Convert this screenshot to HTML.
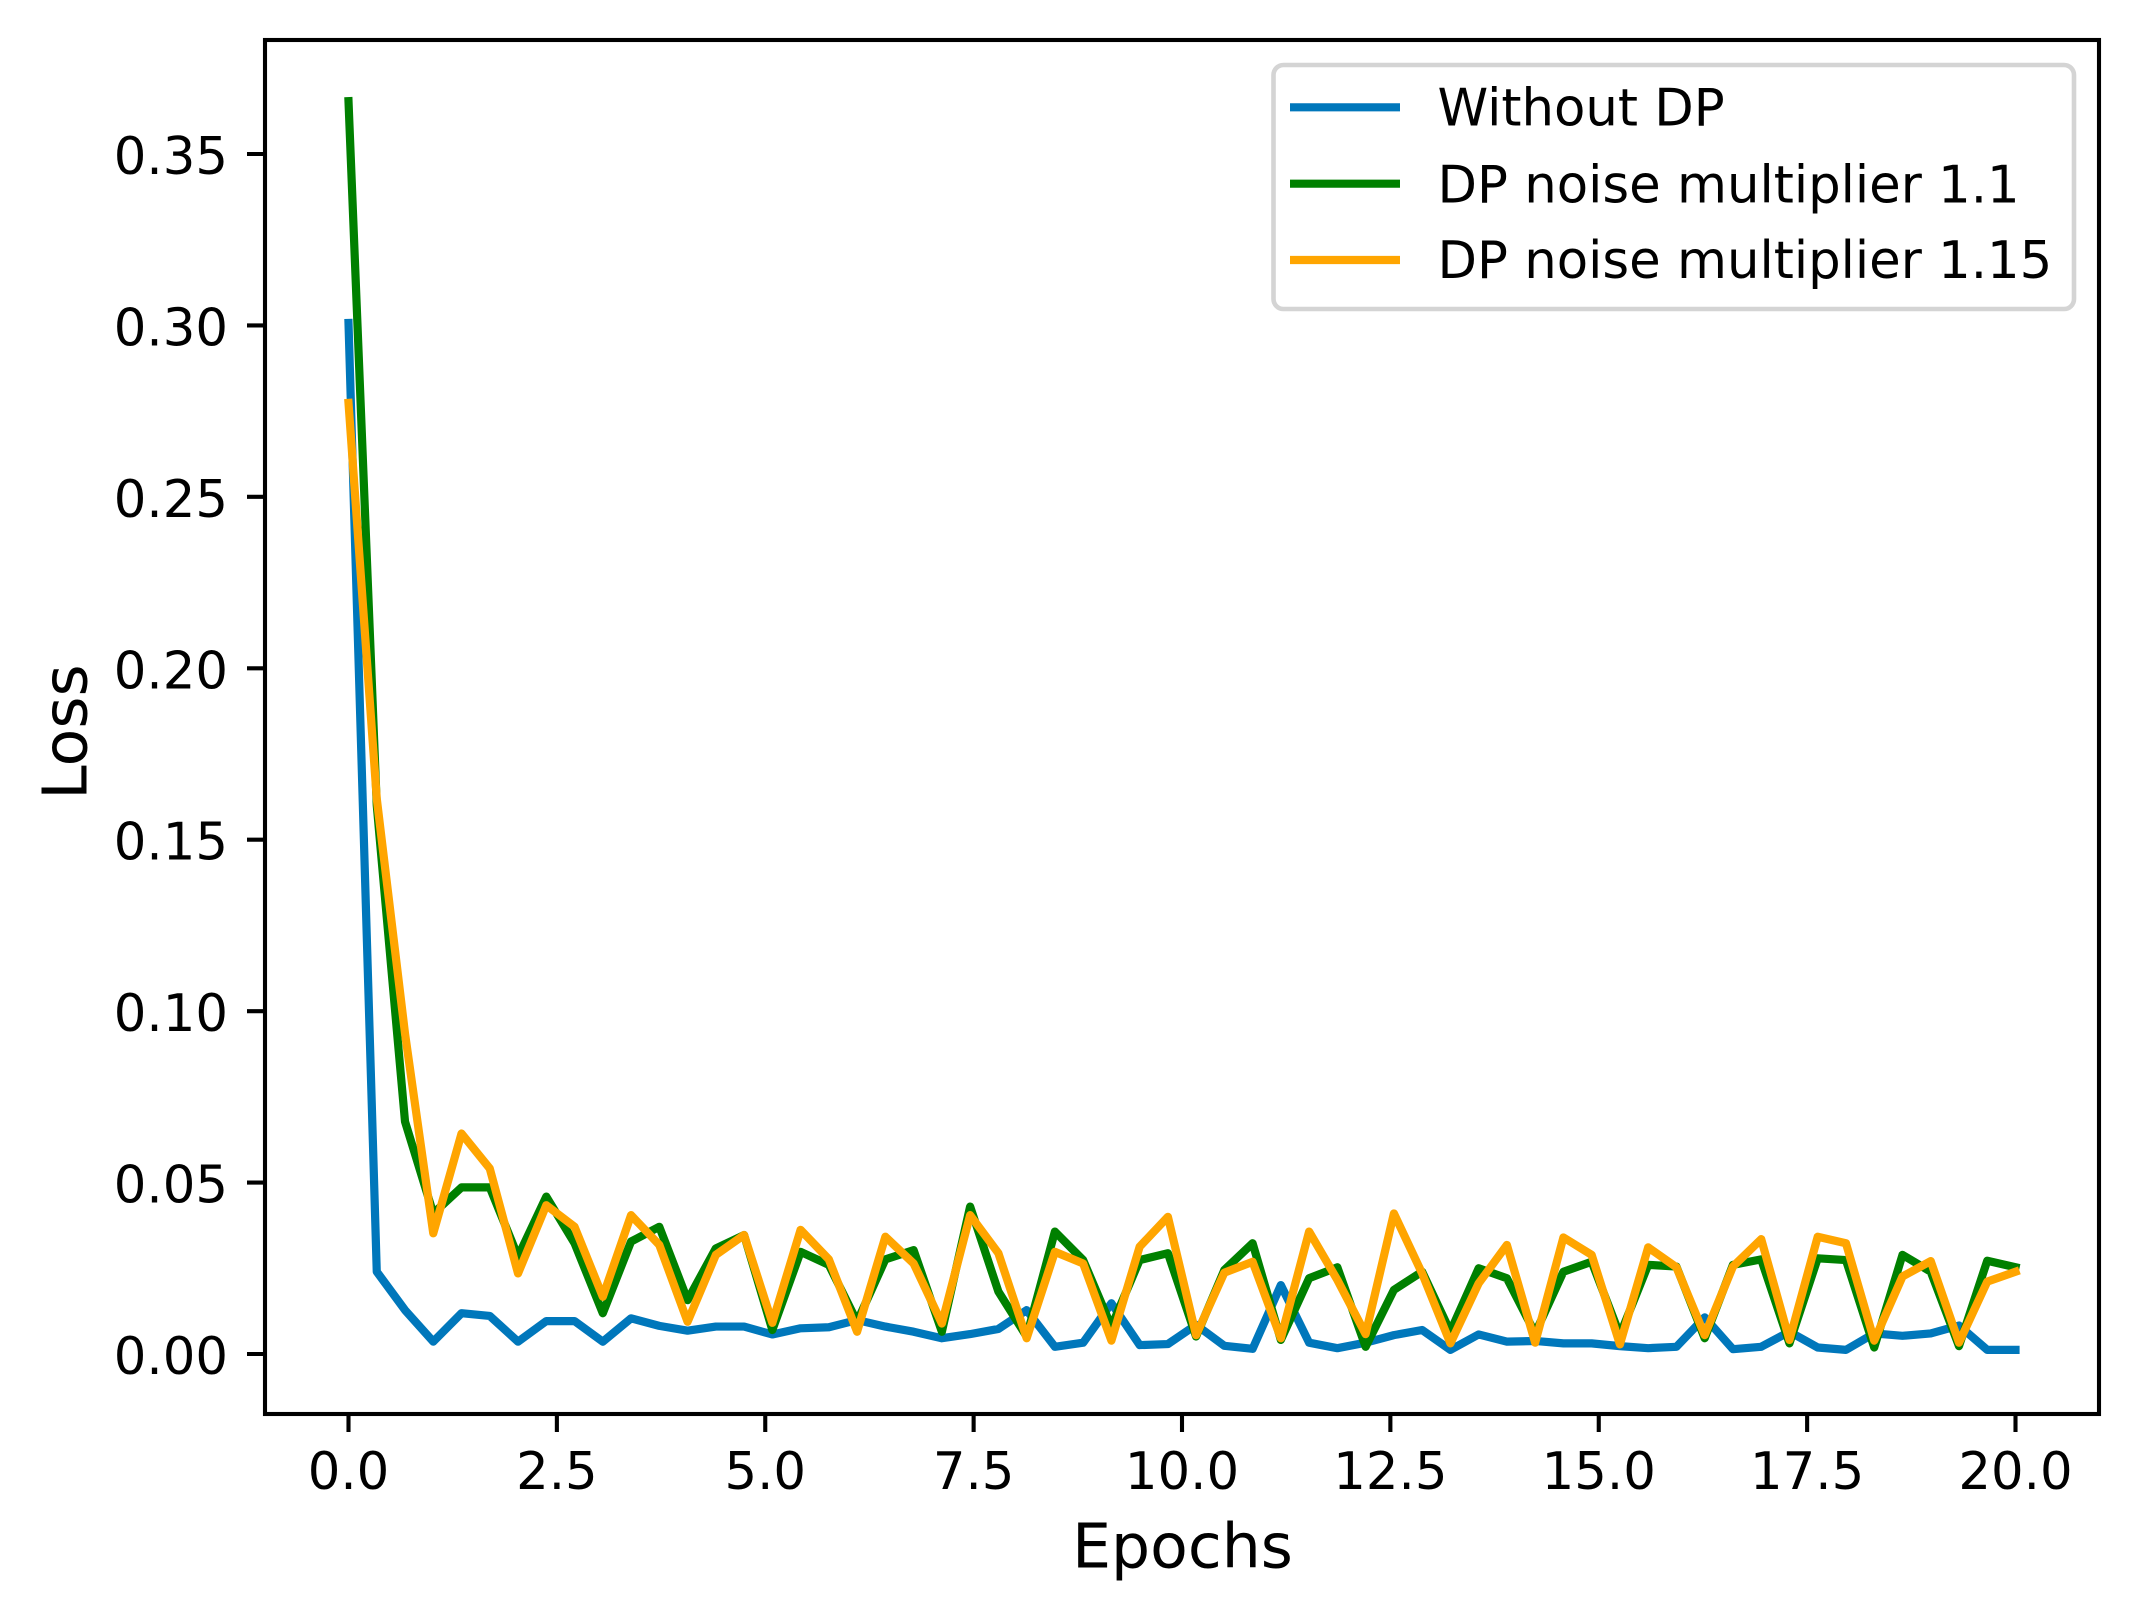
<!DOCTYPE html>
<html lang="en">
<head>
<meta charset="utf-8">
<title>Loss vs Epochs</title>
<style>
  html, body { margin: 0; padding: 0; background: #fff; }
  svg { display: block; }
  text { font-family: "DejaVu Sans", "Liberation Sans", sans-serif; fill: #000; }
</style>
</head>
<body>
<svg id="chart" xmlns="http://www.w3.org/2000/svg" width="2138" height="1608" viewBox="0 0 2138 1608">
  <rect x="0" y="0" width="2138" height="1608" fill="#ffffff"/>
  <defs>
    <clipPath id="plot-clip"><rect x="265" y="40" width="1834" height="1374"/></clipPath>
  </defs>
  <g id="series-layer" clip-path="url(#plot-clip)"></g>
  <rect x="265" y="40" width="1834" height="1374" fill="none" stroke="#000" stroke-width="4.1"/>
  <g id="tick-layer"></g>
  <text x="1182.5" y="1567.5" font-size="61.6" text-anchor="middle">Epochs</text>
  <text x="86.5" y="732" font-size="61.6" text-anchor="middle" transform="rotate(-90 86.5 732)">Loss</text>
  <g>
    <rect x="1273.5" y="65" width="800.5" height="244" rx="10" ry="10" fill="#ffffff" fill-opacity="0.8" stroke="#d4d4d4" stroke-width="4.6"/>
    <g>
      <line x1="1290" y1="107.3" x2="1400" y2="107.3" stroke="#0077bb" stroke-width="8.2"/>
      <text x="1437.5" y="125.5" font-size="51.3">Without DP</text>
    </g>
    <g>
      <line x1="1290" y1="183.7" x2="1400" y2="183.7" stroke="#008000" stroke-width="8.2"/>
      <text x="1437.5" y="202.3" font-size="51.3">DP noise multiplier 1.1</text>
    </g>
    <g>
      <line x1="1290" y1="260" x2="1400" y2="260" stroke="#ffa500" stroke-width="8.2"/>
      <text x="1437.5" y="278" font-size="51.3">DP noise multiplier 1.15</text>
    </g>
  </g>
</svg>
<script>
const epochs = [0,.339,.678,1.017,1.356,1.695,2.034,2.373,2.712,3.051,3.390,3.729,4.068,4.407,4.746,5.085,5.424,5.763,6.102,6.441,6.780,7.119,7.458,7.797,8.136,8.475,8.814,9.153,9.492,9.831,10.169,10.508,10.847,11.186,11.525,11.864,12.203,12.542,12.881,13.220,13.559,13.898,14.237,14.576,14.915,15.254,15.593,15.932,16.271,16.610,16.949,17.288,17.627,17.966,18.305,18.644,18.983,19.322,19.661,20];
const lossWithoutDp = [.3007,.0240,.0128,.0036,.0119,.0111,.0036,.0096,.0096,.0036,.0104,.0082,.0068,.0080,.0080,.0057,.0075,.0078,.0099,.0080,.0065,.0046,.0058,.0073,.0128,.0021,.0033,.0148,.0026,.0029,.0085,.0024,.0015,.0201,.0033,.0017,.0033,.0055,.0070,.0012,.0057,.0036,.0038,.0031,.0031,.0023,.0017,.0021,.0107,.0014,.0021,.0065,.0019,.0012,.0060,.0053,.0060,.0083,.0012,.0012];
const lossNoise110 = [.3654,.160,.0678,.0410,.0486,.0486,.0284,.0459,.0323,.0119,.0328,.0371,.0157,.0308,.0347,.0070,.0298,.0260,.0094,.0276,.0303,.0065,.0430,.0182,.0051,.0357,.0274,.0080,.0274,.0294,.0051,.0245,.0323,.0041,.0221,.0253,.0021,.0187,.0240,.0065,.0250,.0221,.0060,.0240,.0269,.0055,.0260,.0255,.0046,.0260,.0276,.0031,.0279,.0274,.0019,.0289,.0240,.0023,.0272,.0253];
const lossNoise115 = [.2774,.162,.0935,.0352,.0643,.0541,.0235,.0434,.0371,.0167,.0405,.0318,.0094,.0289,.0347,.0091,.0362,.0276,.0065,.0342,.0264,.0089,.0405,.0294,.0046,.0298,.0264,.0039,.0313,.0400,.0055,.0237,.0269,.0046,.0357,.0216,.0058,.0410,.0235,.0031,.0206,.0318,.0033,.0340,.0289,.0028,.0311,.0253,.0055,.0255,.0335,.0041,.0342,.0323,.0039,.0226,.0271,.0033,.0211,.0240];
const xTickLabels = ['0.0','2.5','5.0','7.5','10.0','12.5','15.0','17.5','20.0'];
const yTickLabels = ['0.00','0.05','0.10','0.15','0.20','0.25','0.30','0.35'];

const SVG_NS = 'http://www.w3.org/2000/svg';
function xScale(v) { return 348.5 + v * 83.35; }
function yScale(v) { return 1354 - v * 3428.6; }

const seriesLayer = document.getElementById('series-layer');
const tickLayer = document.getElementById('tick-layer');

function drawSeries(values, color, name) {
  const pts = values.map((v, i) => xScale(epochs[i]).toFixed(2) + ',' + yScale(v).toFixed(2)).join(' ');
  const line = document.createElementNS(SVG_NS, 'polyline');
  
  
  line.setAttribute('points', pts);
  line.setAttribute('fill', 'none');
  line.setAttribute('stroke', color);
  line.setAttribute('stroke-width', '8.2');
  line.setAttribute('stroke-linejoin', 'round');
  line.setAttribute('stroke-linecap', 'square');
  seriesLayer.appendChild(line);
}
drawSeries(lossWithoutDp, '#0077bb', 'line-without-dp');
drawSeries(lossNoise110, '#008000', 'line-noise-1-1');
drawSeries(lossNoise115, '#ffa500', 'line-noise-1-15');

xTickLabels.forEach((label) => {
  const x = xScale(parseFloat(label));
  const tick = document.createElementNS(SVG_NS, 'line');
  
  
  tick.setAttribute('x1', x);
  tick.setAttribute('x2', x);
  tick.setAttribute('y1', 1414);
  tick.setAttribute('y2', 1432);
  tick.setAttribute('stroke', '#000');
  tick.setAttribute('stroke-width', '4.1');
  tickLayer.appendChild(tick);
  const text = document.createElementNS(SVG_NS, 'text');
  
  
  text.setAttribute('x', x);
  text.setAttribute('y', 1489);
  text.setAttribute('font-size', '51.3');
  text.setAttribute('text-anchor', 'middle');
  text.textContent = label;
  tickLayer.appendChild(text);
});

yTickLabels.forEach((label) => {
  const y = yScale(parseFloat(label));
  const tick = document.createElementNS(SVG_NS, 'line');
  
  
  tick.setAttribute('x1', 247);
  tick.setAttribute('x2', 265);
  tick.setAttribute('y1', y);
  tick.setAttribute('y2', y);
  tick.setAttribute('stroke', '#000');
  tick.setAttribute('stroke-width', '4.1');
  tickLayer.appendChild(tick);
  const text = document.createElementNS(SVG_NS, 'text');
  
  
  text.setAttribute('x', 228);
  text.setAttribute('y', y + 20);
  text.setAttribute('font-size', '51.3');
  text.setAttribute('text-anchor', 'end');
  text.textContent = label;
  tickLayer.appendChild(text);
});
</script>
</body>
</html>
